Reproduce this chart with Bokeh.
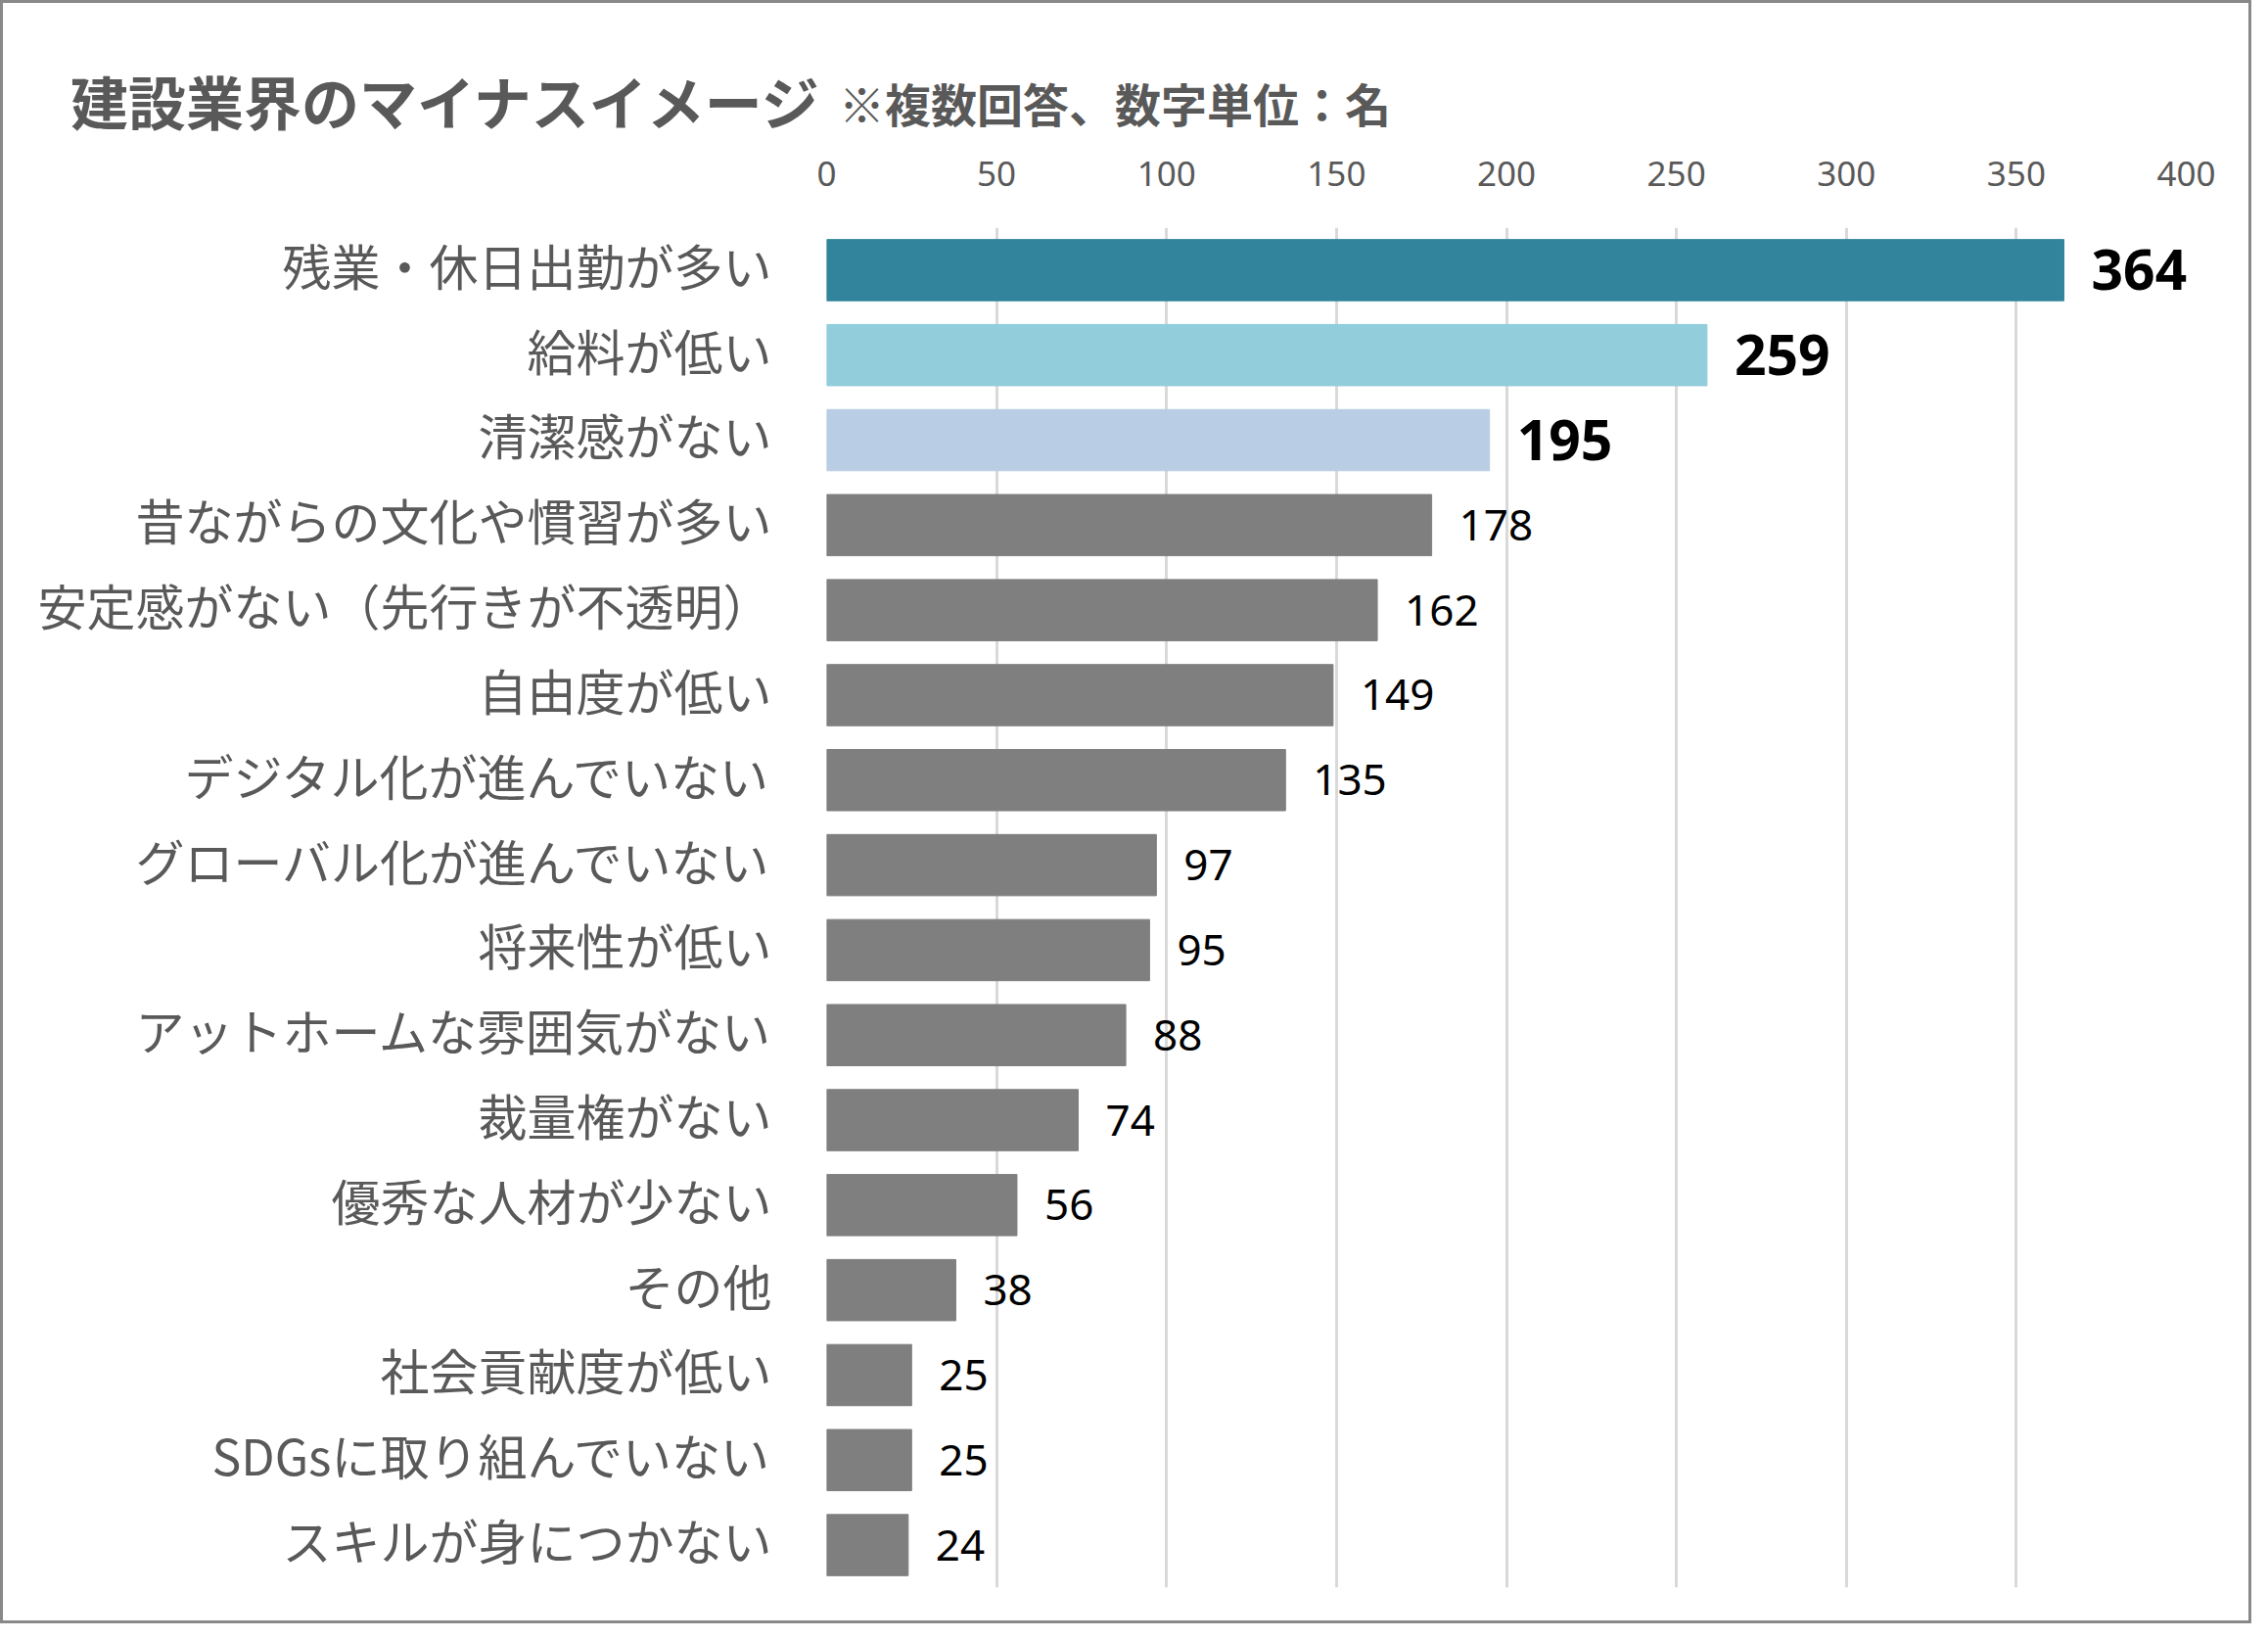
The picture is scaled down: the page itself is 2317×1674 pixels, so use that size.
from bokeh.plotting import figure
from bokeh.layouts import column
from bokeh.models import Range1d, FixedTicker, ColumnDataSource, Div
from bokeh.core.properties import value
from bokeh.embed import file_html
from bokeh.resources import INLINE

categories = [
    "残業・休日出勤が多い", "給料が低い", "清潔感がない", "昔ながらの文化や慣習が多い",
    "安定感がない（先行きが不透明）", "自由度が低い", "デジタル化が進んでいない",
    "グローバル化が進んでいない", "将来性が低い", "アットホームな雰囲気がない",
    "裁量権がない", "優秀な人材が少ない", "その他", "社会貢献度が低い",
    "SDGsに取り組んでいない", "スキルが身につかない",
]
counts = [364, 259, 195, 178, 162, 149, 135, 97, 95, 88, 74, 56, 38, 25, 25, 24]
x_ticks = [0, 50, 100, 150, 200, 250, 300, 350, 400]
title_main = "建設業界のマイナスイメージ"
title_sub = "※複数回答、数字単位：名"

n = len(categories)
bar_colors = ["#31849B", "#92CDDC", "#B9CDE5"] + ["#7F7F7F"] * (n - 3)
label_sizes = ["57px"] * 3 + ["44px"] * (n - 3)
label_styles = ["bold"] * 3 + ["normal"] * (n - 3)
pos = list(range(n))
label_pos = [i - 0.07 for i in pos]   # nudge category labels to sit centred on bars

W = 2294
HT = 140
HM = 1512
FL, FR, FT, FB = 841, 2230, 89, 1478

# ---- title strip (HTML text) ----
font = "'Noto Sans CJK JP', sans-serif"
title_html = (
    f'<div style="position:relative;width:{W}px;height:{HT}px;">'
    f'<span style="position:absolute;left:69px;top:70px;font-family:{font};'
    f'font-size:59px;font-weight:bold;color:#595959;line-height:1;white-space:nowrap;">'
    f'{title_main}</span>'
    f'<span style="position:absolute;left:854px;top:78px;font-family:{font};'
    f'font-size:47px;font-weight:bold;color:#595959;line-height:1;white-space:nowrap;">'
    f'{title_sub}</span></div>'
)
t = Div(text=title_html, width=W, height=HT, margin=0)

# ---- chart ----
src = ColumnDataSource(dict(
    pos=pos, val=counts, color=bar_colors,
    txt=[str(v) for v in counts], size=label_sizes, style=label_styles,
))

p = figure(
    width=W, height=HM, output_backend="svg", toolbar_location=None,
    y_range=Range1d(n - 0.5, -0.5), x_range=Range1d(0, 400), x_axis_location="above",
    min_border_left=FL, min_border_right=W - FR,
    min_border_top=FT, min_border_bottom=HM - FB,
)
p.outline_line_color = None
p.background_fill_color = "white"
p.border_fill_color = "white"

p.hbar(y="pos", left=0, right="val", height=0.72, color="color", source=src)
p.text(x="val", y="pos", text="txt", source=src, x_offset=28,
       text_baseline="middle", text_align="left", text_color="black",
       text_font=value("Noto Sans"), text_font_size="size", text_font_style="style")

xa = p.xaxis[0]
xa.ticker = FixedTicker(ticks=x_ticks)
xa.axis_line_color = None
xa.major_tick_line_color = None
xa.minor_tick_line_color = None
xa.major_label_text_font = "Noto Sans"
xa.major_label_text_font_size = "35px"
xa.major_label_text_color = "#595959"
xa.major_label_standoff = 37

ya = p.yaxis[0]
ya.ticker = FixedTicker(ticks=label_pos)
ya.major_label_overrides = {lp: c for lp, c in zip(label_pos, categories)}
ya.axis_line_color = None
ya.major_tick_line_color = None
ya.minor_tick_line_color = None
ya.major_label_text_font = "Noto Sans CJK JP"
ya.major_label_text_font_size = "50px"
ya.major_label_text_color = "#595959"
ya.major_label_standoff = 50

p.xgrid.ticker = FixedTicker(ticks=x_ticks)
p.xgrid.grid_line_color = "#D9D9D9"
p.xgrid.grid_line_width = 3
p.ygrid.grid_line_color = None

layout = column(t, p, spacing=0, styles={"border": "3px solid #898989",
                                         "background": "white"})

open("out.html", "w").write(file_html(layout, INLINE))
